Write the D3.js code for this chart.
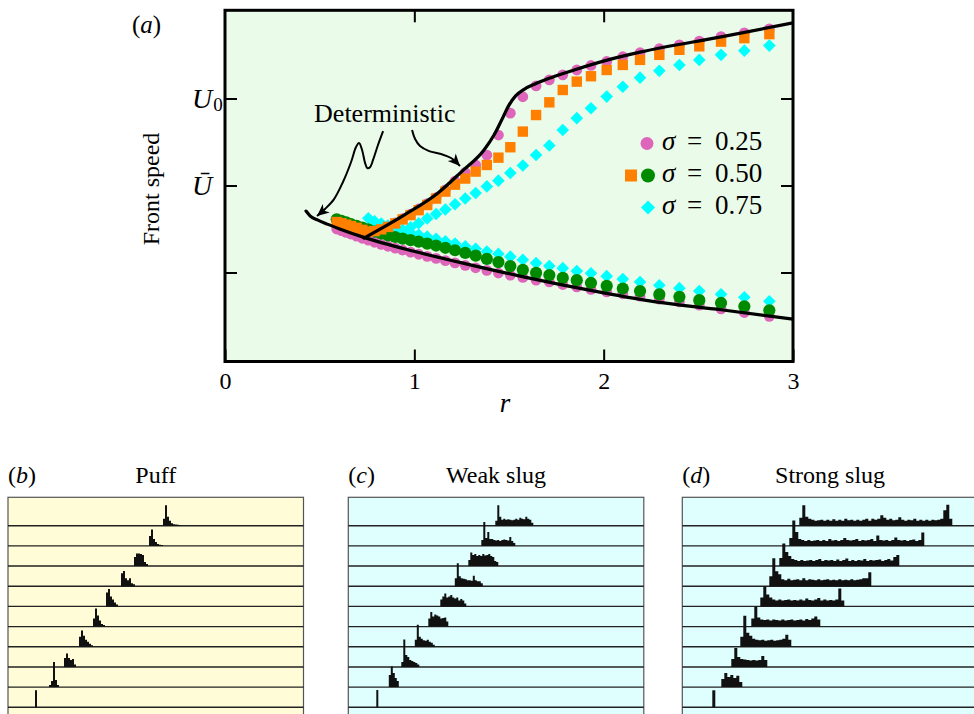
<!DOCTYPE html>
<html><head><meta charset="utf-8">
<script src="https://cdn.jsdelivr.net/npm/d3@7"></script>
<style>
html,body{margin:0;padding:0;background:#fff;}
svg{display:block;}
</style></head><body>
<script>
// ---------------- Panel (a) data ----------------
const rValues = [0.59, 0.615, 0.64, 0.665, 0.695, 0.725, 0.757, 0.79, 0.825, 0.861, 0.899, 0.938, 0.98, 1.023, 1.068, 1.115, 1.164, 1.215, 1.269, 1.324, 1.383, 1.444, 1.507, 1.573, 1.643, 1.713, 1.784, 1.858, 1.933, 2.016, 2.101, 2.192, 2.294, 2.400, 2.505, 2.620, 2.743, 2.875];
const sig025Lower = [0.750, 0.741, 0.731, 0.721, 0.709, 0.697, 0.686, 0.674, 0.662, 0.651, 0.640, 0.629, 0.617, 0.605, 0.593, 0.581, 0.568, 0.555, 0.541, 0.527, 0.512, 0.497, 0.485, 0.472, 0.456, 0.446, 0.431, 0.417, 0.403, 0.389, 0.378, 0.364, 0.347, 0.331, 0.312, 0.291, 0.270, 0.248];
const sig025Upper = [null, null, null, null, null, null, 0.700, 0.718, 0.740, 0.762, 0.785, 0.810, 0.836, 0.865, 0.896, 0.930, 0.975, 1.025, 1.075, 1.118, 1.175, 1.290, 1.416, 1.510, 1.573, 1.607, 1.636, 1.664, 1.690, 1.713, 1.740, 1.763, 1.786, 1.808, 1.830, 1.856, 1.877, 1.900];
const sig050Lower = [0.806, 0.797, 0.788, 0.778, 0.768, 0.758, 0.748, 0.735, 0.724, 0.713, 0.704, 0.695, 0.686, 0.677, 0.666, 0.655, 0.642, 0.628, 0.613, 0.597, 0.578, 0.560, 0.537, 0.515, 0.498, 0.485, 0.469, 0.456, 0.440, 0.423, 0.408, 0.393, 0.374, 0.360, 0.341, 0.325, 0.306, 0.283];
const sig050Upper = [0.790, 0.783, 0.775, 0.767, 0.757, 0.745, 0.735, 0.738, 0.748, 0.762, 0.782, 0.805, 0.830, 0.858, 0.888, 0.925, 0.965, 1.005, 1.040, 1.080, 1.118, 1.160, 1.220, 1.310, 1.405, 1.478, 1.549, 1.597, 1.628, 1.664, 1.693, 1.722, 1.751, 1.780, 1.800, 1.827, 1.847, 1.870];
const sig075Lower = [null, null, null, null, null, null, 0.812, 0.795, 0.782, 0.770, 0.757, 0.742, 0.729, 0.717, 0.706, 0.694, 0.680, 0.667, 0.651, 0.636, 0.621, 0.607, 0.591, 0.573, 0.554, 0.537, 0.525, 0.508, 0.496, 0.479, 0.462, 0.445, 0.427, 0.410, 0.393, 0.375, 0.358, 0.335];
const sig075Upper = [null, null, null, null, null, null, null, null, null, null, null, 0.745, 0.760, 0.783, 0.810, 0.836, 0.862, 0.892, 0.925, 0.957, 0.995, 1.028, 1.072, 1.115, 1.175, 1.230, 1.319, 1.387, 1.444, 1.511, 1.568, 1.620, 1.659, 1.693, 1.722, 1.751, 1.775, 1.804];

const detLowerR = [0.428, 0.449, 0.491, 0.54, 0.602, 0.734, 0.998, 1.284, 1.564, 1.986, 2.266, 2.620, 3.0];
const detLowerU = [0.853, 0.826, 0.801, 0.778, 0.752, 0.702, 0.622, 0.547, 0.478, 0.386, 0.333, 0.286, 0.232];
const detUpperR = [0.734, 0.946, 1.125, 1.247, 1.368, 1.421, 1.469, 1.500, 1.535, 1.580, 1.640, 1.722, 1.844, 2.023, 2.198, 2.620, 3.0];
const detUpperU = [0.698, 0.830, 0.957, 1.077, 1.204, 1.290, 1.394, 1.462, 1.515, 1.553, 1.585, 1.620, 1.664, 1.722, 1.768, 1.854, 1.935];

const arrow1R = [0.835, 0.808, 0.782, 0.766, 0.752, 0.740, 0.724, 0.708, 0.692, 0.666, 0.623, 0.576, 0.528, 0.486];
const arrow1U = [1.313, 1.233, 1.147, 1.105, 1.100, 1.129, 1.204, 1.244, 1.221, 1.135, 1.020, 0.922, 0.865, 0.825];
const arrow2R = [0.988, 1.004, 1.030, 1.078, 1.141, 1.194, 1.241];
const arrow2U = [1.319, 1.267, 1.227, 1.198, 1.181, 1.158, 1.112];

const xTicks = [0, 1, 2, 3];
const xTopTicks = [1, 2];
const yTickValues = [0.5, 1.0, 1.5];
const yTickBase = ["", "\u016A", "U"];
const yTickSub = ["", "", "0"];
const legendSigma = ["0.25", "0.50", "0.75"];

// ---------------- Panels (b)-(d) data (turbulence profiles, 10 rows each) ----------------
const puffStarts = [155, 141, 126, 113, 98, 85, 71, 56, 41, 27];
const puffHeights = [
  [7, 20.5, 9, 5, 2.5, 1.5, 1.2, 1, 0.8],
  [10, 16.5, 7, 4, 2, 1.2, 1],
  [9, 12.5, 12.5, 12, 11, 4, 2],
  [13, 15.3, 8, 6, 8, 3, 2],
  [14, 17.5, 10, 7, 4, 2],
  [8, 18, 11, 6, 2.5, 1.5],
  [10, 16.3, 11, 7, 5, 3, 1.5],
  [9, 13.5, 9, 7, 8, 2.5],
  [2, 6, 25, 7, 2],
  [17]
];
const weakStarts = [147, 133, 120, 106.5, 92, 80, 66.5, 53, 40.5, 28];
const weakHeights = [
  [5, 20.5, 9, 6, 7, 6, 6.5, 6, 5.5, 6, 7, 6, 8, 7, 6.5, 9, 7, 6, 3],
  [6, 24, 8, 14, 7, 7, 6, 5.5, 6, 5, 6, 6.5, 6, 5.5, 9, 5, 3],
  [6, 13.5, 11, 12, 10, 11, 10, 12, 10.5, 11, 12, 10, 9, 5, 4],
  [8, 23, 10, 8, 7.5, 7, 6, 6, 5.5, 10.5, 6, 5, 5, 3],
  [7, 10, 13, 9, 10, 11.5, 9, 8, 9, 6, 7.5, 6, 3],
  [8, 14.5, 10, 12, 11, 10, 8, 8.5, 9, 5],
  [7, 22, 10, 8, 6.5, 6, 7, 5, 4, 2],
  [5, 27.5, 12, 10, 7, 6, 5, 4, 2.5],
  [12, 20.5, 14, 9, 6],
  [17.3]
];
const strongStarts = [117, 107, 97, 87, 78, 69, 58, 49, 39, 30];
const strongHeights = [
  [8, 20.5, 9, 7, 6, 5, 5.5, 6, 5, 6, 5, 6.5, 5, 6, 5, 7, 5.5, 6, 5, 6, 5, 6, 7, 5, 7, 6, 7, 10.5, 8, 6, 7, 5.5, 6, 8.5, 6, 5, 6, 5.5, 7, 5, 6, 5, 6, 5, 6, 5.5, 6, 7, 15.5, 21, 7],
  [8, 25.5, 14, 7, 6, 5, 6, 5, 5.5, 6, 5, 6, 5, 7, 5.5, 6, 5, 6, 8, 6, 5.5, 6, 7, 5, 6, 5.5, 6, 7, 5, 10.5, 6, 5.5, 6, 5, 6, 8.5, 6, 5.5, 6, 5, 6, 6.5, 5, 6, 13.3],
  [8, 22.5, 14, 10, 7, 6, 5, 6, 5, 5.5, 6, 5, 6, 7, 5, 6, 5.5, 6, 5, 6.5, 5, 6, 7.5, 5, 6, 5, 6, 5.5, 7, 5, 6, 5.5, 6, 6.5, 5, 6, 7, 5.5, 9, 11],
  [10, 28, 15, 12, 7, 6, 7.5, 6, 6.5, 7, 6, 8, 6, 7, 6.5, 6, 7, 6, 6.5, 7, 6, 6.5, 6, 7, 6, 6.5, 6, 7, 6, 6.5, 7, 8, 8, 14],
  [9, 20, 12, 9, 7, 6, 7, 6, 6.5, 7, 6, 6.5, 6, 7, 6, 8, 6.5, 6, 7, 8.5, 6, 7, 6, 6.5, 6, 7, 18, 6],
  [8, 20, 9, 7, 6.5, 7, 6, 7, 6.5, 6, 7, 6, 6.5, 7, 6, 6.5, 7, 6, 7.5, 6.5, 8, 10, 7],
  [10, 31, 14, 11, 8, 7, 6.5, 7, 6, 6.5, 7, 6, 6.5, 7, 8, 12, 7],
  [8, 19, 10, 8, 7.5, 7, 6.5, 7, 6.5, 7, 11, 7],
  [8, 14, 10, 12, 9, 11.3, 5],
  [17]
];

// ---------------- Drawing ----------------
const SERIF = "'Liberation Serif','Times New Roman',Times,serif";
const svg = d3.select("body").append("svg").attr("width", 974).attr("height", 714)
  .attr("font-family", SERIF);

const xA = d3.scaleLinear().domain([0, 3]).range([225, 793]);
const yA = d3.scaleLinear().domain([-0.0115, 2.007]).range([361.5, 10.3]);

const defs = svg.append("defs");
defs.append("clipPath").attr("id", "clipA").append("rect")
  .attr("x", xA(0)).attr("y", yA(2.007)).attr("width", xA(3) - xA(0)).attr("height", yA(-0.0115) - yA(2.007));
defs.append("marker").attr("id", "arrowHead").attr("viewBox", "-13 -6 14 12")
  .attr("refX", 0).attr("refY", 0).attr("markerWidth", 14).attr("markerHeight", 12)
  .attr("markerUnits", "userSpaceOnUse").attr("orient", "auto")
  .append("path").attr("d", "M0,0 L-12,-5.5 L-8.5,0 L-12,5.5 Z").attr("fill", "#000");

// background
svg.append("rect").attr("x", xA(0)).attr("y", yA(2.007)).attr("width", xA(3) - xA(0))
  .attr("height", yA(-0.0115) - yA(2.007)).attr("fill", "#EAFBE9");

const plot = svg.append("g").attr("clip-path", "url(#clipA)");

function pts(vals) {
  return rValues.map((r, i) => ({ r: r, v: vals[i] })).filter(d => d.v !== null && d.v !== undefined);
}
function diamond(s) { return `M0,${-s}L${s},0L0,${s}L${-s},0Z`; }

const COL = { pink: "#DE66BA", orange: "#FF8000", green: "#008A00", cyan: "#00FFFF" };

// cyan diamonds (sigma = 0.75)
[sig075Lower, sig075Upper].forEach(arr => {
  plot.append("g").selectAll("path").data(pts(arr)).join("path")
    .attr("d", diamond(6.3)).attr("transform", d => `translate(${xA(d.r)},${yA(d.v)})`)
    .attr("fill", COL.cyan);
});
// pink circles (sigma = 0.25)
[sig025Lower, sig025Upper].forEach(arr => {
  plot.append("g").selectAll("circle").data(pts(arr)).join("circle")
    .attr("cx", d => xA(d.r)).attr("cy", d => yA(d.v)).attr("r", 5.4).attr("fill", COL.pink);
});
// green circles (sigma = 0.50, lower)
plot.append("g").selectAll("circle").data(pts(sig050Lower)).join("circle")
  .attr("cx", d => xA(d.r)).attr("cy", d => yA(d.v)).attr("r", 6.1).attr("fill", COL.green);
// orange squares (sigma = 0.50, upper)
plot.append("g").selectAll("rect").data(pts(sig050Upper)).join("rect")
  .attr("x", d => xA(d.r) - 5.2).attr("y", d => yA(d.v) - 5.2).attr("width", 10.4).attr("height", 10.4)
  .attr("fill", COL.orange);

// deterministic curves
const detLine = d3.line().x(d => xA(d[0])).y(d => yA(d[1])).curve(d3.curveMonotoneX);
const line = d3.line().x(d => xA(d[0])).y(d => yA(d[1])).curve(d3.curveCatmullRom.alpha(0.5));
plot.append("path").attr("d", detLine(detLowerR.map((r, i) => [r, detLowerU[i]])))
  .attr("fill", "none").attr("stroke", "#000").attr("stroke-width", 3.2).attr("stroke-linecap", "round");
plot.append("path").attr("d", detLine(detUpperR.map((r, i) => [r, detUpperU[i]])))
  .attr("fill", "none").attr("stroke", "#000").attr("stroke-width", 3.2).attr("stroke-linecap", "round");

// annotation arrows
[[arrow1R, arrow1U], [arrow2R, arrow2U]].forEach(([ar, au]) => {
  svg.append("path").attr("d", line(ar.map((r, i) => [r, au[i]])))
    .attr("fill", "none").attr("stroke", "#000").attr("stroke-width", 2)
    .attr("marker-end", "url(#arrowHead)");
});
svg.append("text").attr("x", xA(arrow1R[0]) - 69).attr("y", yA(arrow1U[0]) - 9)
  .attr("font-size", 26).text("Deterministic");

// frame
svg.append("rect").attr("x", xA(0)).attr("y", yA(2.007)).attr("width", xA(3) - xA(0))
  .attr("height", yA(-0.0115) - yA(2.007)).attr("fill", "none").attr("stroke", "#000").attr("stroke-width", 3);

// axes
function styleAxis(g) {
  g.select(".domain").remove();
  g.selectAll(".tick line").attr("stroke", "#000").attr("stroke-width", 2);
  g.attr("font-family", SERIF).attr("font-size", 24);
  g.selectAll(".tick text").attr("fill", "#000");
}
svg.append("g").attr("transform", `translate(0,${yA(-0.0115)})`)
  .call(d3.axisBottom(xA).tickValues(xTicks).tickSizeInner(-12).tickSizeOuter(0).tickPadding(10).tickFormat(d3.format("d")))
  .call(styleAxis);
svg.append("g").attr("transform", `translate(0,${yA(2.007)})`)
  .call(d3.axisTop(xA).tickValues(xTopTicks).tickSizeInner(-12).tickSizeOuter(0).tickFormat(""))
  .call(styleAxis);
svg.append("g").attr("transform", `translate(${xA(0)},0)`)
  .call(d3.axisLeft(yA).tickValues(yTickValues).tickSizeInner(-12).tickSizeOuter(0).tickFormat(""))
  .call(styleAxis);
svg.append("g").attr("transform", `translate(${xA(3)},0)`)
  .call(d3.axisRight(yA).tickValues(yTickValues).tickSizeInner(-12).tickSizeOuter(0).tickFormat(""))
  .call(styleAxis);

// y tick labels (U0, U-bar)
yTickValues.forEach((v, i) => {
  if (!yTickBase[i]) return;
  const t = svg.append("text").attr("x", xA(0) - 33).attr("y", yA(v) + 9)
    .attr("font-size", 28);
  t.append("tspan").attr("font-style", "italic").text(yTickBase[i]);
  if (yTickSub[i]) t.append("tspan").attr("font-size", 19).attr("dy", 3).attr("dx", 1).text(yTickSub[i]);
});

// axis titles
svg.append("text").attr("x", (xA(0) + xA(3)) / 2 - 4).attr("y", 412).attr("text-anchor", "middle")
  .attr("font-size", 27).attr("font-style", "italic").text("r");
svg.append("text").attr("transform", `translate(159,${yA(0.98)}) rotate(-90)`).attr("text-anchor", "middle")
  .attr("font-size", 24).text("Front speed");
const la = svg.append("text").attr("x", 132).attr("y", 33).attr("font-size", 25);
la.append("tspan").text("(");
la.append("tspan").attr("font-style", "italic").text("a");
la.append("tspan").text(")");

// legend
const legX = 662, legY0 = 150, legDY = 32;
legendSigma.forEach((s, i) => {
  const by = legY0 + i * legDY;
  const t = svg.append("text").attr("y", by).attr("font-size", 27);
  t.append("tspan").attr("x", legX).attr("font-style", "italic").text("\u03C3");
  t.append("tspan").attr("x", legX + 25).text("=");
  t.append("tspan").attr("x", legX + 53).text(s);
  const my = by - 6.5;
  if (i === 0) {
    svg.append("circle").attr("cx", legX - 15).attr("cy", my).attr("r", 6.5).attr("fill", COL.pink);
  } else if (i === 1) {
    svg.append("rect").attr("x", legX - 37).attr("y", my - 6).attr("width", 12).attr("height", 12).attr("fill", COL.orange);
    svg.append("circle").attr("cx", legX - 14).attr("cy", my).attr("r", 7).attr("fill", COL.green);
  } else {
    svg.append("path").attr("d", diamond(7)).attr("transform", `translate(${legX - 14},${my})`).attr("fill", COL.cyan);
  }
});

// ---------------- Bottom panels ----------------
const panels = [
  { letter: "b", title: "Puff", left: 8, bg: "#FFFCD7", starts: puffStarts, heights: puffHeights, bin: 2 },
  { letter: "c", title: "Weak slug", left: 348.3, bg: "#DFFFFF", starts: weakStarts, heights: weakHeights, bin: 2 },
  { letter: "d", title: "Strong slug", left: 682.3, bg: "#DFFFFF", starts: strongStarts, heights: strongHeights, bin: 3 }
];
const PW = 295.5, boxTop = 497.3;
const rowY = d3.scaleLinear().domain([0, 9]).range([525.7, 707.3]);
const hS = d3.scaleLinear().domain([0, 20]).range([0, 20]);

panels.forEach(p => {
  const xs = d3.scaleLinear().domain([0, PW]).range([p.left, p.left + PW]);
  const g = svg.append("g");
  g.append("rect").attr("x", xs(0)).attr("y", boxTop).attr("width", xs(PW) - xs(0)).attr("height", 240)
    .attr("fill", p.bg).attr("stroke", "#555").attr("stroke-width", 1.2);
  p.heights.forEach((hs, i) => {
    g.append("line").attr("x1", xs(0)).attr("x2", xs(PW)).attr("y1", rowY(i)).attr("y2", rowY(i))
      .attr("stroke", "#222").attr("stroke-width", 1.4);
  });
  p.heights.forEach((hs, i) => {
    const base = rowY(i);
    const data = hs.map((h, k) => [p.starts[i] + k * p.bin, h]);
    data.push([p.starts[i] + hs.length * p.bin, hs[hs.length - 1]]);
    const area = d3.area().x(d => xs(d[0])).y0(base).y1(d => base - hS(d[1])).curve(d3.curveStepAfter);
    g.append("path").attr("d", area(data)).attr("fill", "#111");
  });
  const t = svg.append("text").attr("x", xs(0)).attr("y", 483).attr("font-size", 24);
  t.append("tspan").text("(");
  t.append("tspan").attr("font-style", "italic").text(p.letter);
  t.append("tspan").text(")");
  svg.append("text").attr("x", (xs(0) + xs(PW)) / 2).attr("y", 483).attr("text-anchor", "middle")
    .attr("font-size", 24).text(p.title);
});
</script>
</body></html>
